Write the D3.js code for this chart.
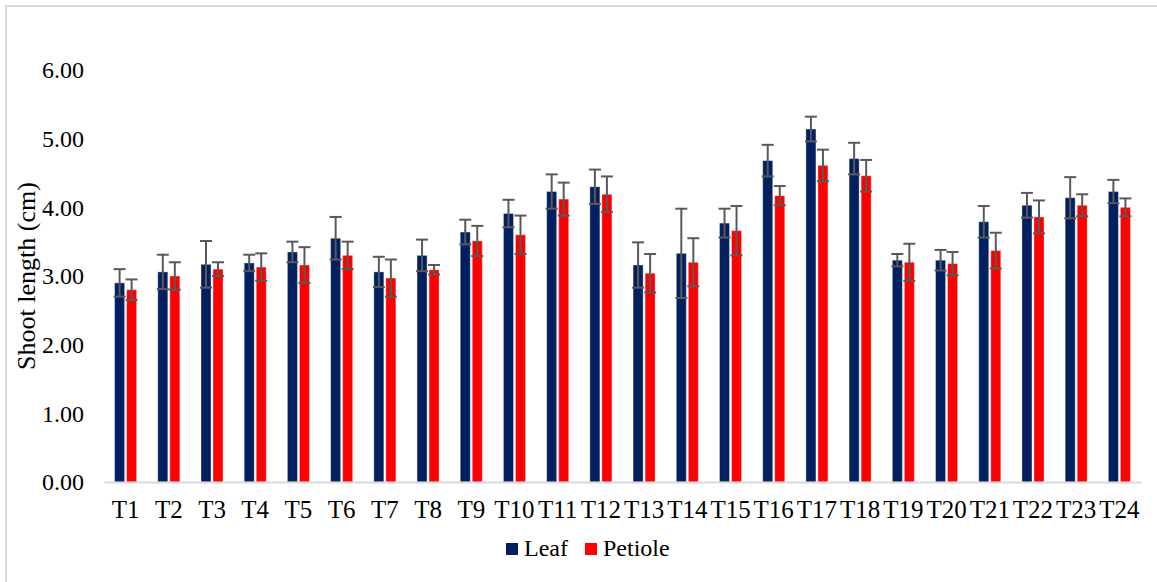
<!DOCTYPE html>
<html>
<head>
<meta charset="utf-8">
<script src="https://cdn.jsdelivr.net/npm/d3@7"></script>
<style>
  body { margin: 0; background: #fff; }
  svg text { font-family: 'Liberation Serif', 'Times New Roman', serif !important; fill: #000; }
</style>
</head>
<body>
<script>
// treatments on the x axis
var categories = ["T1","T2","T3","T4","T5","T6","T7","T8","T9","T10","T11","T12",
                  "T13","T14","T15","T16","T17","T18","T19","T20","T21","T22","T23","T24"];
var seriesNames = ["Leaf", "Petiole"];

// mean shoot length (cm) and error bar half-lengths
var leaf       = [2.90,3.06,3.17,3.19,3.35,3.55,3.06,3.30,3.64,3.91,4.23,4.30,
                  3.16,3.33,3.77,4.68,5.14,4.71,3.23,3.23,3.79,4.03,4.14,4.23];
var leafErr    = [0.20,0.25,0.34,0.12,0.15,0.31,0.22,0.23,0.18,0.20,0.25,0.25,
                  0.33,0.65,0.21,0.23,0.18,0.23,0.09,0.15,0.23,0.18,0.30,0.17];
var petiole    = [2.80,3.00,3.10,3.13,3.16,3.30,2.97,3.09,3.51,3.60,4.12,4.19,
                  3.04,3.20,3.66,4.17,4.61,4.46,3.20,3.18,3.37,3.86,4.03,4.00];
var petioleErr = [0.15,0.20,0.10,0.20,0.26,0.20,0.27,0.07,0.22,0.28,0.24,0.26,
                  0.28,0.35,0.36,0.14,0.23,0.23,0.27,0.17,0.26,0.24,0.16,0.13];
var yTicks = [0, 1, 2, 3, 4, 5, 6];

var colors = {Leaf: "#002060", Petiole: "#ff0000"};
var serif = "'Liberation Serif', 'Times New Roman', serif";

var width = 1157, height = 582;
var margin = {left: 104, right: 16, top: 70, bottom: 100};

var svg = d3.select("body").append("svg")
    .attr("width", width)
    .attr("height", height)
    .attr("font-family", serif);

// chart area frame
svg.append("rect")
    .attr("x", 6).attr("y", 6)
    .attr("width", width + 10).attr("height", height + 10)
    .attr("fill", "#fff")
    .attr("stroke", "#d9d9d9")
    .attr("stroke-width", 2);

var x0 = d3.scaleBand()
    .domain(categories)
    .range([margin.left, width - margin.right])
    .paddingInner(0.49)
    .paddingOuter(0.245);

var x1 = d3.scaleBand()
    .domain(seriesNames)
    .range([0, x0.bandwidth()])
    .paddingInner(0.1667);

var y = d3.scaleLinear()
    .domain([0, 6])
    .range([482, 70]);

// build rows for the bars
var rows = [];
categories.forEach(function(c, i) {
  rows.push({cat: c, series: "Leaf", value: leaf[i], err: leafErr[i]});
  rows.push({cat: c, series: "Petiole", value: petiole[i], err: petioleErr[i]});
});

// y axis labels (no line, no ticks)
var yAxis = svg.append("g")
    .attr("transform", "translate(" + (margin.left - 20) + ",0)")
    .call(d3.axisLeft(y).tickValues(yTicks).tickFormat(d3.format(".2f")).tickSize(0).tickPadding(0));
yAxis.attr("font-family", serif).attr("font-size", 24);
yAxis.select(".domain").remove();
yAxis.selectAll("text").attr("fill", "#000");

// bars
svg.append("g").selectAll("rect")
    .data(rows)
    .enter()
    .append("rect")
    .attr("x", function(d) { return x0(d.cat) + x1(d.series); })
    .attr("y", function(d) { return y(d.value); })
    .attr("width", x1.bandwidth())
    .attr("height", function(d) { return y(0) - y(d.value); })
    .attr("fill", function(d) { return colors[d.series]; })
    .attr("stroke", "#ffffff")
    .attr("stroke-opacity", 0.35)
    .attr("stroke-width", 1);

// x axis line and labels
var xAxis = svg.append("g")
    .attr("transform", "translate(0," + y(0) + ")")
    .call(d3.axisBottom(x0).tickSize(0).tickPadding(18));
xAxis.attr("font-family", serif).attr("font-size", 25);
xAxis.select(".domain")
    .attr("stroke", "#d9d9d9")
    .attr("stroke-width", 2);
xAxis.selectAll("text").attr("fill", "#000");

// error bars
var capW = 12;
var eb = svg.append("g").selectAll("g")
    .data(rows)
    .enter()
    .append("g")
    .attr("stroke", "#595959")
    .attr("stroke-width", 2);

function cx(d) { return x0(d.cat) + x1(d.series) + x1.bandwidth() / 2; }

eb.append("line")
    .attr("x1", cx).attr("x2", cx)
    .attr("y1", function(d) { return y(d.value + d.err); })
    .attr("y2", function(d) { return y(d.value - d.err); });
eb.append("line")
    .attr("x1", function(d) { return cx(d) - capW / 2; })
    .attr("x2", function(d) { return cx(d) + capW / 2; })
    .attr("y1", function(d) { return y(d.value + d.err); })
    .attr("y2", function(d) { return y(d.value + d.err); });
eb.append("line")
    .attr("x1", function(d) { return cx(d) - capW / 2; })
    .attr("x2", function(d) { return cx(d) + capW / 2; })
    .attr("y1", function(d) { return y(d.value - d.err); })
    .attr("y2", function(d) { return y(d.value - d.err); });

// y axis title
svg.append("text")
    .attr("transform", "translate(35," + ((y(0) + y(6)) / 2) + ") rotate(-90)")
    .attr("text-anchor", "middle")
    .attr("font-size", 26)
    .text("Shoot length (cm)");

// legend
var legendX = [506, 585];
var legend = svg.append("g").selectAll("g")
    .data(seriesNames)
    .enter()
    .append("g")
    .attr("transform", function(d, i) { return "translate(" + legendX[i] + ",543)"; });
legend.append("rect")
    .attr("width", 12).attr("height", 12)
    .attr("fill", function(d) { return colors[d]; });
legend.append("text")
    .attr("x", 18).attr("y", 13)
    .attr("font-size", 24)
    .text(function(d) { return d; });
</script>
</body>
</html>
